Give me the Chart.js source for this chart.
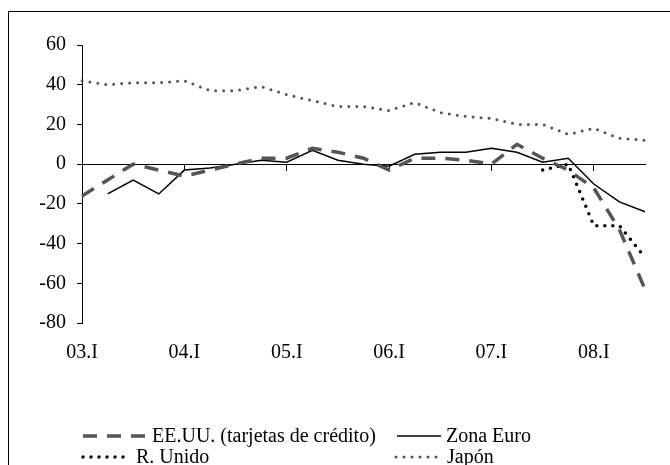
<!DOCTYPE html>
<html>
<head>
<meta charset="utf-8">
<script src="https://cdn.jsdelivr.net/npm/chart.js@4"></script>
<style>
  html, body { margin: 0; padding: 0; background: #fff; }
  #wrap { position: relative; width: 670px; height: 465px; overflow: hidden; }
  #frame { position: absolute; left: 8px; top: 11px; width: 700px; height: 500px; border: 1.5px solid #000; box-sizing: border-box; }
  #chart-box { position: absolute; left: 0; top: 0; width: 670px; height: 465px; }
  #legend { position: absolute; left: 81px; top: 425px; font: 20px "Liberation Serif", "Times New Roman", serif; color: #000; }
  .row { position: relative; height: 21px; }
  .item { position: absolute; top: 0; display: flex; align-items: center; white-space: nowrap; line-height: 21px; }
  .item svg { margin-right: 3px; }
</style>
</head>
<body>
<div id="wrap">
  <div id="frame"></div>
  <div id="chart-box"><canvas id="chart"></canvas></div>
  <div id="legend"></div>
</div>
<script>
const quarters = [
  '03.I', '03.II', '03.III', '03.IV',
  '04.I', '04.II', '04.III', '04.IV',
  '05.I', '05.II', '05.III', '05.IV',
  '06.I', '06.II', '06.III', '06.IV',
  '07.I', '07.II', '07.III', '07.IV',
  '08.I', '08.II', '08.III'
];
const eeuu = [-16, -8, 0, -3, -6, -3, 0, 3, 3, 8, 6, 3, -3, 3, 3, 2, 0, 10, 3, -3, -12, -33, -63];
const zonaEuro = [null, -15, -8, -15, -3, -2, 0, 2, 1, 7, 2, 0, -1, 5, 6, 6, 8, 6, 1, 3, -10, -19, -24];
const rUnido = [null, null, null, null, null, null, null, null, null, null, null, null,
  null, null, null, null, null, null, -3, 0, -31, -31, -47];
const japon = [42, 40, 41, 41, 42, 37, 37, 39, 35, 32, 29, 29, 27, 31, 26, 24, 23, 20, 20, 15, 18, 13, 12];
const yTicks = { min: -80, max: 60, step: 20 };

const serif = { family: '"Liberation Serif", "Times New Roman", serif', size: 20 };

const datasets = [
  { label: 'EE.UU. (tarjetas de crédito)', data: eeuu, borderColor: '#555555', borderWidth: 3.5, borderDash: [14, 10], borderCapStyle: 'butt' },
  { label: 'Zona Euro', data: zonaEuro, borderColor: '#000000', borderWidth: 1.5, borderDash: [] },
  { label: 'R. Unido', data: rUnido, borderColor: '#000000', borderWidth: 3.5, borderDash: [0, 8], borderCapStyle: 'round' },
  { label: 'Japón', data: japon, borderColor: '#555555', borderWidth: 3, borderDash: [0, 8], borderCapStyle: 'round' }
];

const chart = new Chart(document.getElementById('chart'), {
  type: 'line',
  data: {
    labels: quarters,
    datasets: datasets.map(d => ({
      ...d,
      fill: false,
      tension: 0,
      pointRadius: 0,
      spanGaps: false
    }))
  },
  options: {
    responsive: true,
    maintainAspectRatio: false,
    animation: false,
    layout: { padding: { top: 45, right: 25, bottom: 102, left: 0 } },
    plugins: { legend: { display: false }, tooltip: { enabled: false } },
    scales: {
      x: {
        type: 'category',
        position: 'bottom',
        offset: false,
        grid: { display: false, drawTicks: false },
        border: { display: false },
        ticks: {
          autoSkip: false,
          maxRotation: 0,
          padding: 18,
          color: '#000',
          font: serif,
          callback: (v, i) => (i % 4 === 0 ? quarters[i] : '')
        },
        afterFit: s => { s.height = 40; }
      },
      x0: {
        axis: 'x',
        type: 'category',
        position: { y: 0 },
        offset: false,
        grid: {
          drawOnChartArea: false,
          tickLength: 6,
          tickWidth: 1,
          tickColor: c => (c.index % 4 === 0 ? '#000' : 'rgba(0,0,0,0)')
        },
        border: { color: '#000', width: 1 },
        ticks: { display: false, autoSkip: false }
      },
      y: {
        min: yTicks.min,
        max: yTicks.max,
        grid: { drawOnChartArea: false, tickLength: 5, color: '#000' },
        border: { color: '#000', width: 1 },
        ticks: { stepSize: yTicks.step, padding: 11, color: '#000', font: serif },
        afterFit: s => { s.width = 82; }
      }
    }
  }
});

// legend laid out like the original: two columns, two rows
const legendPos = [
  { row: 0, left: 0, w: 68 },
  { row: 0, left: 314, w: 48 },
  { row: 1, left: 0, w: 52 },
  { row: 1, left: 313, w: 50 }
];
const legend = document.getElementById('legend');
const rows = [0, 1].map(() => {
  const r = document.createElement('div');
  r.className = 'row';
  legend.appendChild(r);
  return r;
});
chart.data.datasets.forEach((ds, i) => {
  const p = legendPos[i];
  const item = document.createElement('div');
  item.className = 'item';
  item.style.left = p.left + 'px';
  const dash = (ds.borderDash || []).join(' ');
  item.innerHTML =
    '<svg width="' + p.w + '" height="10"><line x1="2" y1="5" x2="' + (p.w - 2) + '" y2="5" stroke="' + ds.borderColor +
    '" stroke-width="' + ds.borderWidth + '" stroke-dasharray="' + dash + '" stroke-linecap="' + (ds.borderCapStyle || 'butt') + '"/></svg>' +
    '<span>' + ds.label + '</span>';
  rows[p.row].appendChild(item);
});
</script>
</body>
</html>
